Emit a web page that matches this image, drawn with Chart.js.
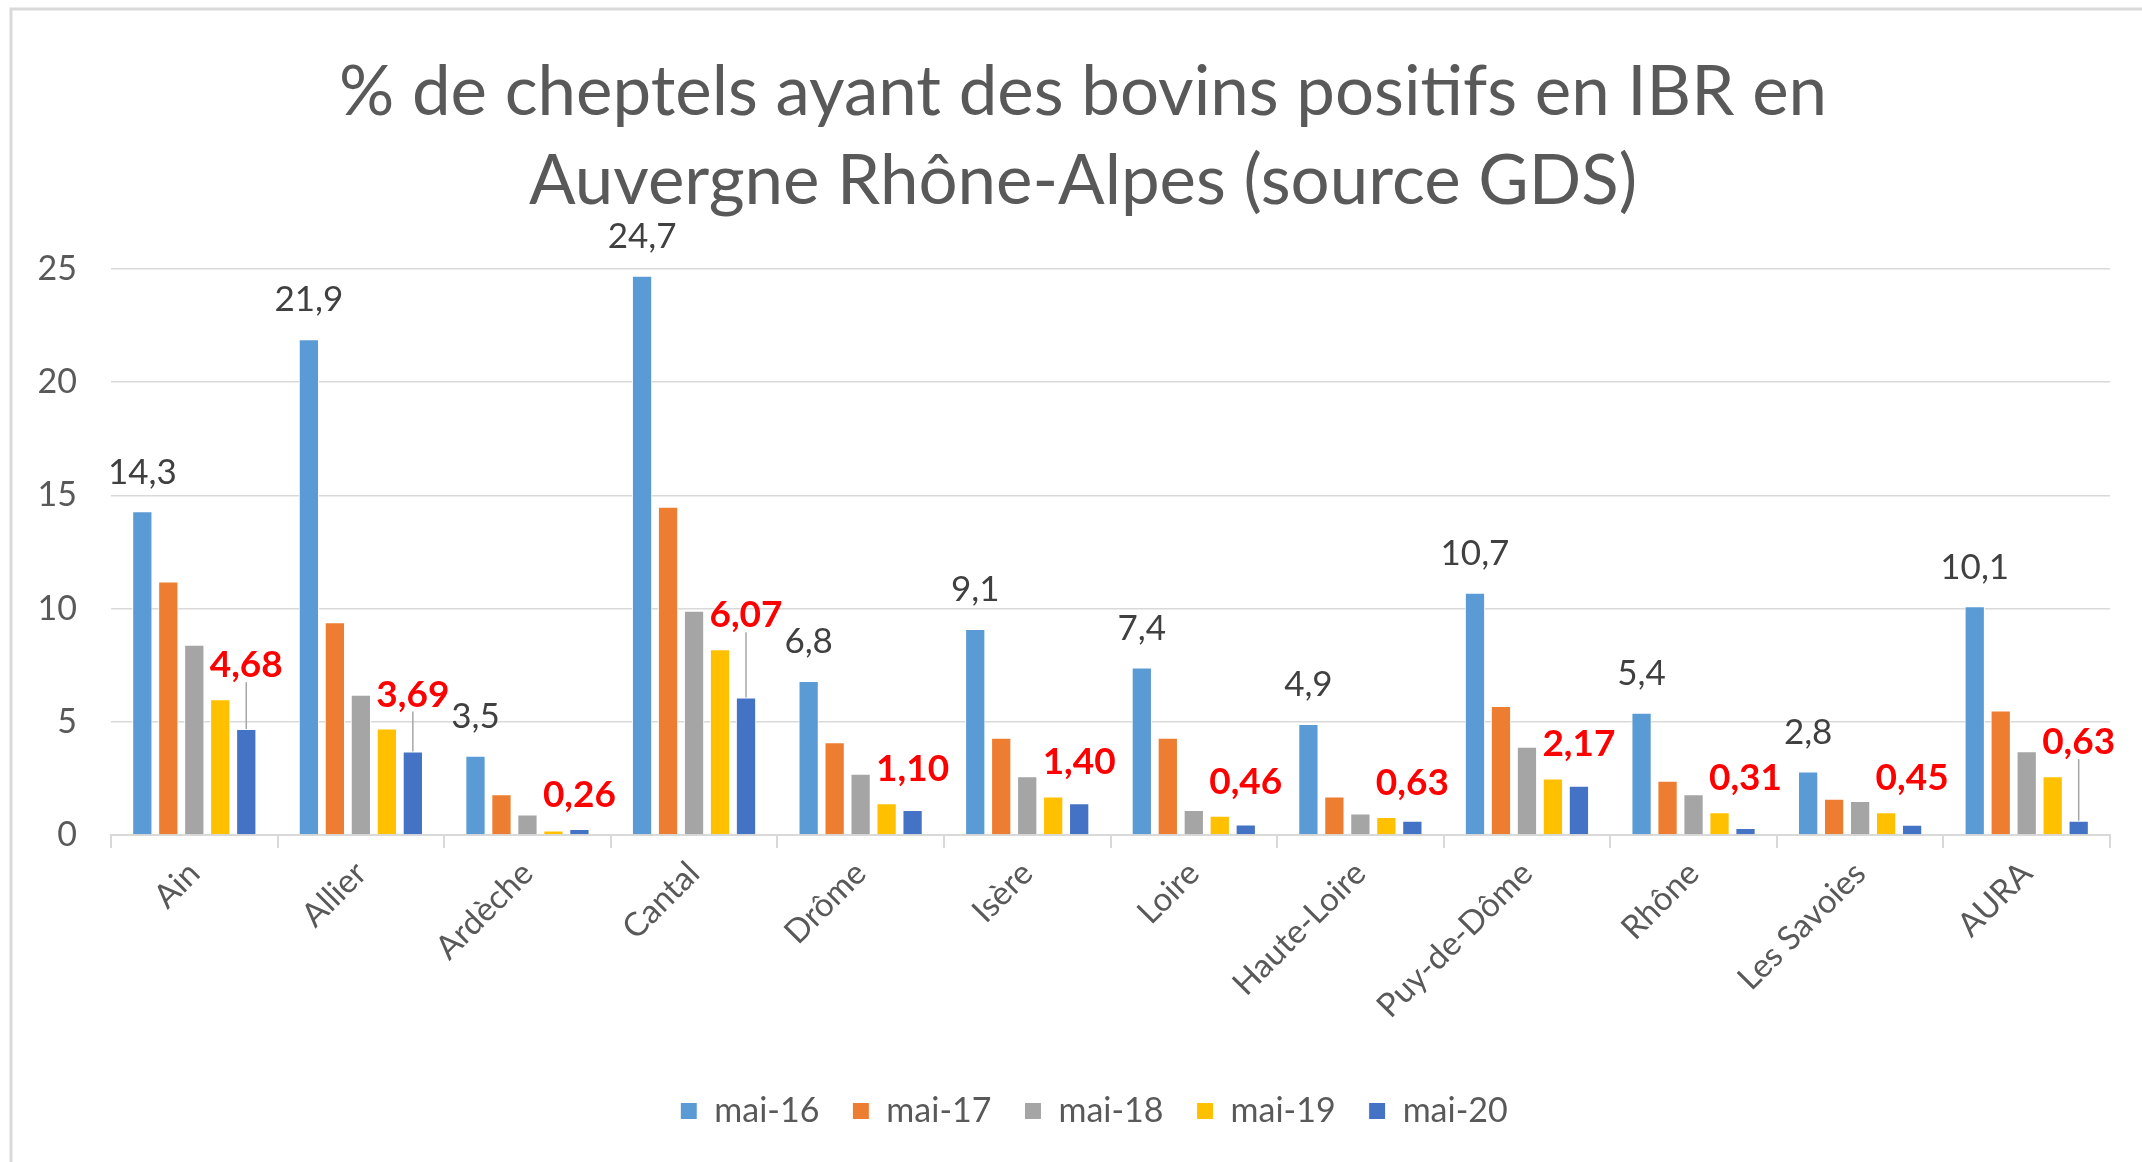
<!DOCTYPE html>
<html lang="fr">
<head>
<meta charset="utf-8">
<title>IBR Auvergne Rhône-Alpes</title>
<script src="https://cdn.jsdelivr.net/npm/chart.js@4.4.1/dist/chart.umd.min.js"></script>
<style>
  html, body { margin: 0; padding: 0; background: #fff; }
  #wrap { width: 2142px; height: 1162px; }
</style>
</head>
<body>
<div id="wrap"><canvas id="ibrChart" width="2142" height="1162"></canvas></div>
<script>
const categories = ['Ain', 'Allier', 'Ardèche', 'Cantal', 'Drôme', 'Isère', 'Loire', 'Haute-Loire', 'Puy-de-Dôme', 'Rhône', 'Les Savoies', 'AURA'];
const seriesNames = ['mai-16', 'mai-17', 'mai-18', 'mai-19', 'mai-20'];
const mai16 = [14.3, 21.9, 3.5, 24.7, 6.8, 9.1, 7.4, 4.9, 10.7, 5.4, 2.8, 10.1];
const mai17 = [11.2, 9.4, 1.8, 14.5, 4.1, 4.3, 4.3, 1.7, 5.7, 2.4, 1.6, 5.5];
const mai18 = [8.4, 6.2, 0.9, 9.9, 2.7, 2.6, 1.1, 0.95, 3.9, 1.8, 1.5, 3.7];
const mai19 = [6.0, 4.7, 0.2, 8.2, 1.4, 1.7, 0.85, 0.8, 2.5, 1.0, 1.0, 2.6];
const mai20 = [4.68, 3.69, 0.26, 6.07, 1.10, 1.40, 0.46, 0.63, 2.17, 0.31, 0.45, 0.63];
const yTicks = [0, 5, 10, 15, 20, 25];

const colors = ['#5B9BD5', '#ED7D31', '#A5A5A5', '#FFC000', '#4472C4'];
const textGray = '#595959';

Chart.defaults.font.family = 'Lato, "Open Sans", sans-serif';
Chart.defaults.color = textGray;

function fmt(v, d) {
    return v.toFixed(d).replace('.', ',');
}

// fond blanc + cadre gris comme la capture Excel
const cadrePlugin = {
    id: 'cadre',
    afterLayout(chart) {
        // le titre et la légende d'Excel sont un peu décalés vers la droite
        if (chart.titleBlock) {
            chart.titleBlock.left += 28;
            chart.titleBlock.right += 28;
        }
        if (chart.legend) {
            chart.legend.left += 39;
            chart.legend.right += 39;
        }
    },
    beforeDraw(chart) {
        const c = chart.ctx;
        c.save();
        c.fillStyle = '#fff';
        c.fillRect(0, 0, chart.width, chart.height);
        c.strokeStyle = '#d9d9d9';
        c.lineWidth = 3;
        c.beginPath();
        c.moveTo(11, chart.height);
        c.lineTo(11, 9);
        c.lineTo(chart.width, 9);
        c.stroke();
        c.restore();
    }
};

// étiquettes de données : mai-16 en gris, mai-20 en rouge gras
const etiquettesPlugin = {
    id: 'etiquettes',
    afterDatasetsDraw(chart) {
        const c = chart.ctx;
        const first = chart.getDatasetMeta(0).data;
        const yellow = chart.getDatasetMeta(3).data;
        const last = chart.getDatasetMeta(4).data;
        c.save();
        c.textAlign = 'center';
        c.textBaseline = 'middle';

        c.font = '35px Lato';
        c.fillStyle = '#404040';
        first.forEach((bar, i) => {
            c.fillText(fmt(mai16[i], 1), bar.x, bar.y - 39);
        });

        c.font = 'bold 37px Lato';
        last.forEach((bar, i) => {
            const top = Math.min(bar.y, yellow[i].y);
            const ly = top - 34;
            if (bar.y - ly > 52) {
                c.strokeStyle = '#a6a6a6';
                c.lineWidth = 1.5;
                c.beginPath();
                c.moveTo(bar.x, ly + 17);
                c.lineTo(bar.x, bar.y);
                c.stroke();
            }
            c.fillStyle = '#FF0000';
            c.fillText(fmt(mai20[i], 2), bar.x, ly);
        });
        c.restore();
    }
};

const allSeries = [mai16, mai17, mai18, mai19, mai20];

new Chart(document.getElementById('ibrChart').getContext('2d'), {
    type: 'bar',
    data: {
        labels: categories,
        datasets: allSeries.map((vals, k) => ({
            label: seriesNames[k],
            data: vals,
            backgroundColor: colors[k],
            borderColor: '#ffffff',
            borderWidth: 1,
            categoryPercentage: 0.78,
            barPercentage: 0.78
        }))
    },
    options: {
        responsive: false,
        animation: false,
        layout: {padding: {left: 0, right: 32, top: 0, bottom: 24}},
        plugins: {
            title: {
                display: true,
                text: ['% de cheptels ayant des bovins positifs en IBR en', 'Auvergne Rhône-Alpes (source GDS)'],
                color: textGray,
                font: {size: 69, weight: 'normal', lineHeight: 1.29},
                padding: {top: 48, bottom: 43}
            },
            legend: {
                position: 'bottom',
                labels: {
                    boxWidth: 17,
                    boxHeight: 17,
                    padding: 33,
                    color: textGray,
                    font: {size: 34}
                }
            },
            tooltip: {enabled: false}
        },
        scales: {
            x: {
                grid: {
                    offset: true,
                    drawOnChartArea: false,
                    drawTicks: true,
                    tickLength: 13,
                    color: '#d9d9d9',
                    lineWidth: 2
                },
                border: {color: '#d9d9d9', width: 2},
                ticks: {
                    minRotation: 45,
                    maxRotation: 45,
                    padding: 6,
                    color: textGray,
                    font: {size: 33}
                },
                afterFit(scale) { scale.height = 226; }
            },
            y: {
                min: 0,
                max: 25,
                afterBuildTicks(scale) { scale.ticks = yTicks.map(v => ({value: v})); },
                grid: {color: '#d9d9d9', lineWidth: 1.5, drawTicks: false},
                border: {display: false},
                ticks: {padding: 34, color: textGray, font: {size: 34}},
                afterFit(scale) { scale.width = 111; }
            }
        }
    },
    plugins: [cadrePlugin, etiquettesPlugin]
});
</script>
</body>
</html>
